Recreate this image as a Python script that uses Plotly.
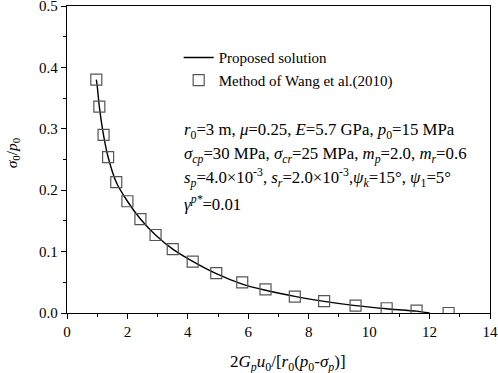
import plotly.graph_objects as go

# Proposed solution curve
line_x = [0.97, 1.0, 1.07, 1.2, 1.36, 1.63, 2.0, 2.43, 2.93, 3.5, 4.16, 4.94, 5.8, 6.57, 7.54, 8.51, 9.55, 10.58, 11.57, 12.0]
line_y = [0.38, 0.37, 0.336, 0.292, 0.254, 0.213, 0.182, 0.153, 0.127, 0.104, 0.084, 0.064, 0.047, 0.037, 0.027, 0.019, 0.012, 0.007, 0.003, 0.0]

# Method of Wang et al. (2010) markers
wang_x = [0.97, 1.07, 1.21, 1.36, 1.63, 2.0, 2.43, 2.93, 3.5, 4.16, 4.94, 5.8, 6.57, 7.54, 8.51, 9.55, 10.58, 11.57, 12.63]
wang_y = [0.38, 0.336, 0.29, 0.254, 0.213, 0.182, 0.153, 0.127, 0.104, 0.0836, 0.065, 0.050, 0.0386, 0.0266, 0.0195, 0.012, 0.0077, 0.0038, 0.0]

param_lines = [
    "<i>r</i><sub>0</sub>=3 m, <i>μ</i>=0.25, <i>E</i>=5.7 GPa, <i>p</i><sub>0</sub>=15 MPa",
    "<i>σ<sub>cp</sub></i>=30 MPa, <i>σ<sub>cr</sub></i>=25 MPa, <i>m<sub>p</sub></i>=2.0, <i>m<sub>r</sub></i>=0.6",
    "<i>s<sub>p</sub></i>=4.0×10<sup>-3</sup>, <i>s<sub>r</sub></i>=2.0×10<sup>-3</sup>,<i>ψ<sub>k</sub></i>=15°, <i>ψ</i><sub>1</sub>=5°",
    "<i>γ<sup>p*</sup></i>=0.01",
]
param_y = [0.296, 0.257, 0.220, 0.178]

x_title = "2<i>G<sub>p</sub>u</i><sub>0</sub>/[<i>r</i><sub>0</sub>(<i>p</i><sub>0</sub>-<i>σ<sub>p</sub></i>)]"
y_title = "<i>σ</i><sub>0</sub>/<i>p</i><sub>0</sub>"

FONT = "Liberation Serif"

fig = go.Figure()
fig.add_trace(go.Scatter(
    x=line_x, y=line_y, mode="lines", name="Proposed solution",
    line=dict(color="black", width=1.4, shape="spline", smoothing=0.6),
))
fig.add_trace(go.Scatter(
    x=wang_x, y=wang_y, mode="markers", name="Method of Wang et al.(2010)",
    marker=dict(symbol="square-open", size=11, color="#555555", line=dict(width=1.2)),
))

for txt, yy in zip(param_lines, param_y):
    fig.add_annotation(x=3.8, y=yy, xref="x", yref="y", text=txt, showarrow=False,
                       xanchor="left", yanchor="middle",
                       font=dict(family=FONT, size=16.8, color="black"))

fig.add_annotation(x=0.523, y=-0.163, xref="paper", yref="paper", text=x_title, showarrow=False,
                   xanchor="center", yanchor="middle", font=dict(family=FONT, size=17, color="black"))
fig.add_annotation(x=-0.13, y=0.52, xref="paper", yref="paper", text=y_title, showarrow=False,
                   textangle=-90, xanchor="center", yanchor="middle",
                   font=dict(family=FONT, size=15.5, color="black"))

axis_common = dict(
    showline=True, linecolor="black", linewidth=1.3, mirror=True,
    ticks="outside", ticklen=5, tickwidth=1.3, tickcolor="black",
    showgrid=False, zeroline=False, ticklabeloverflow="allow", automargin=False,
    tickfont=dict(family=FONT, size=15, color="black"),
)

fig.update_xaxes(range=[0, 14], tickvals=[0, 2, 4, 6, 8, 10, 12, 14],
                 minor=dict(ticks="outside", ticklen=3, tickwidth=1.3, tickcolor="black", dtick=1, tick0=0),
                 **axis_common)
fig.update_yaxes(range=[0, 0.5], tickvals=[0, 0.1, 0.2, 0.3, 0.4, 0.5], tickformat=".1f",
                 minor=dict(ticks="outside", ticklen=3, tickwidth=1.3, tickcolor="black", dtick=0.05, tick0=0),
                 **axis_common)

fig.update_layout(
    width=498, height=373,
    margin=dict(l=67, r=8, t=6, b=60),
    paper_bgcolor="white", plot_bgcolor="white",
    font=dict(family=FONT, size=14, color="black"),
    showlegend=True,
    legend=dict(x=0.264, y=0.885, xanchor="left", yanchor="top", bgcolor="rgba(0,0,0,0)",
                font=dict(family=FONT, size=15, color="black"), tracegroupgap=0, itemwidth=30),
)

fig.write_html("out.html", config={"displayModeBar": False},
               post_script="document.body.style.margin='0';document.body.style.padding='0';")
